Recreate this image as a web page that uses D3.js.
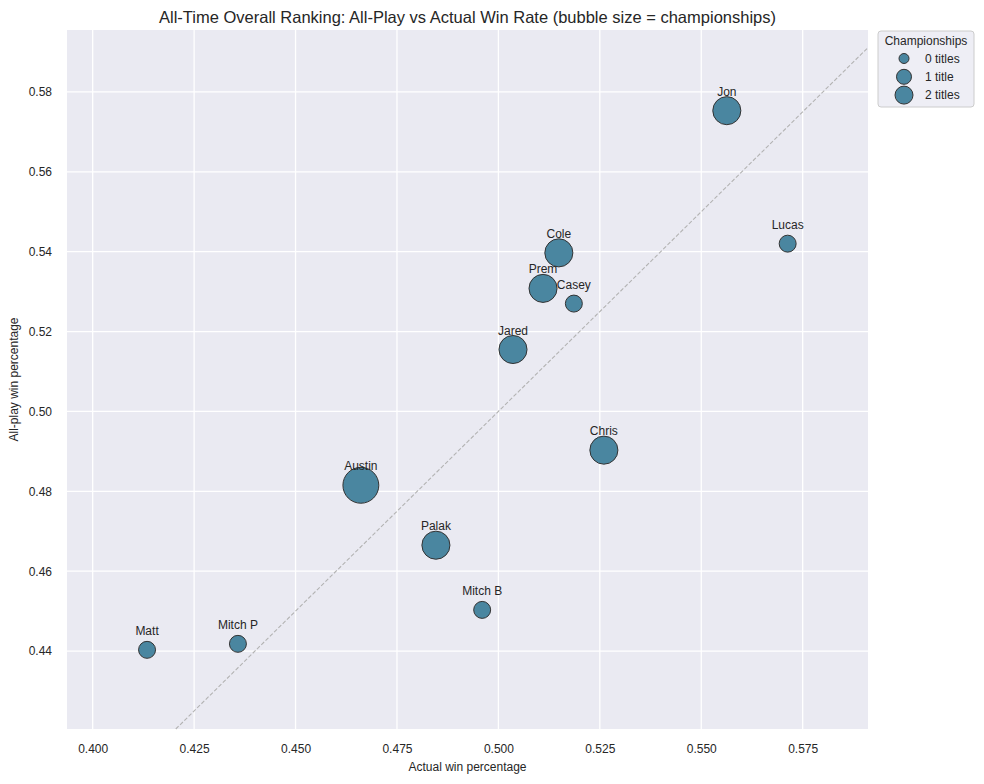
<!DOCTYPE html>
<html>
<head>
<meta charset="utf-8">
<script src="https://cdn.jsdelivr.net/npm/d3@7"></script>
<style>
  body { margin: 0; background: #fff; }
  svg { font-family: "Liberation Sans", Arial, sans-serif; }
</style>
</head>
<body>
<svg id="chart" width="984" height="784"></svg>
<script>
// data
var managers = ["Jon", "Lucas", "Cole", "Prem", "Casey", "Jared", "Chris", "Austin", "Palak", "Mitch B", "Mitch P", "Matt"];
var actualPct = [0.5563, 0.5713, 0.5149, 0.5110, 0.5186, 0.5036, 0.5260, 0.4661, 0.4846, 0.4960, 0.4358, 0.4134];
var allPlayPct = [0.5753, 0.5420, 0.5397, 0.5308, 0.5270, 0.5155, 0.4903, 0.4815, 0.4665, 0.4503, 0.4418, 0.4403];
var titles = [1, 0, 1, 1, 0, 1, 1, 2, 1, 0, 0, 0];

var xTicks = [0.400, 0.425, 0.450, 0.475, 0.500, 0.525, 0.550, 0.575];
var yTicks = [0.44, 0.46, 0.48, 0.50, 0.52, 0.54, 0.56, 0.58];
var legendTitles = [0, 1, 2];

var width = 984
var height = 784
var margin = { top: 30, right: 116, bottom: 55, left: 67 };

var svg = d3.select("#chart");

var x = d3.scaleLinear()
    .domain([0.39367, 0.5911])
    .range([margin.left, width - margin.right]);
var y = d3.scaleLinear()
    .domain([0.42048, 0.5955])
    .range([height - margin.bottom, margin.top]);

// bubble area grows with championships
var r = function(t) { return Math.sqrt(72 + 125 * t); };

svg.append("rect")
    .attr("x", margin.left)
    .attr("y", margin.top)
    .attr("width", width - margin.left - margin.right)
    .attr("height", height - margin.top - margin.bottom)
    .attr("fill", "#eaeaf2");

// grid
svg.append("g").selectAll("line").data(xTicks).join("line")
    .attr("x1", function(d) { return x(d); })
    .attr("x2", function(d) { return x(d); })
    .attr("y1", margin.top)
    .attr("y2", height - margin.bottom)
    .attr("stroke", "#fff").attr("stroke-width", 1.3);
svg.append("g").selectAll("line").data(yTicks).join("line")
    .attr("y1", function(d) { return y(d); })
    .attr("y2", function(d) { return y(d); })
    .attr("x1", margin.left)
    .attr("x2", width - margin.right)
    .attr("stroke", "#fff").attr("stroke-width", 1.3);

// axes (text only, seaborn style)
var xAxis = svg.append("g")
    .attr("transform", "translate(0," + (height - margin.bottom) + ")")
    .call(d3.axisBottom(x).tickValues(xTicks).tickFormat(d3.format(".3f")).tickSize(0).tickPadding(15));
var yAxis = svg.append("g")
    .attr("transform", "translate(" + margin.left + ",0)")
    .call(d3.axisLeft(y).tickValues(yTicks).tickFormat(d3.format(".2f")).tickSize(0).tickPadding(15));
[xAxis, yAxis].forEach(function(a) {
    a.select(".domain").remove();
    a.selectAll("text").attr("fill", "#262626").style("font-size", "12px")
        .style("font-family", "'Liberation Sans', Arial, sans-serif");
});

// y = x reference line
var lo = Math.max(x.domain()[0], y.domain()[0]);
var hi = Math.min(x.domain()[1], y.domain()[1]);
svg.append("line")
    .attr("x1", x(lo)).attr("y1", y(lo))
    .attr("x2", x(hi)).attr("y2", y(hi))
    .attr("stroke", "#b3b3b3")
    .attr("stroke-width", 1.1)
    .attr("stroke-dasharray", "4,2");

var points = managers.map(function(m, i) {
    return { name: m, ax: actualPct[i], ap: allPlayPct[i], t: titles[i] };
});

svg.append("g").selectAll("circle").data(points).join("circle")
    .attr("cx", function(d) { return x(d.ax); })
    .attr("cy", function(d) { return y(d.ap); })
    .attr("r", function(d) { return r(d.t); })
    .attr("fill", "#4a86a0")
    .attr("stroke", "#333")
    .attr("stroke-width", 1);

svg.append("g").selectAll("text").data(points).join("text")
    .attr("x", function(d) { return x(d.ax); })
    .attr("y", function(d) { return y(d.ap) - 15; })
    .attr("text-anchor", "middle")
    .attr("fill", "#262626")
    .style("font-size", "12px")
    .text(function(d) { return d.name; });

// titles
svg.append("text")
    .attr("x", (margin.left + width - margin.right) / 2)
    .attr("y", 23)
    .attr("text-anchor", "middle")
    .attr("fill", "#262626")
    .style("font-size", "16.5px")
    .text("All-Time Overall Ranking: All-Play vs Actual Win Rate (bubble size = championships)");

svg.append("text")
    .attr("x", (margin.left + width - margin.right) / 2)
    .attr("y", 771)
    .attr("text-anchor", "middle")
    .attr("fill", "#262626")
    .style("font-size", "12px")
    .text("Actual win percentage");

svg.append("text")
    .attr("transform", "translate(18," + ((margin.top + height - margin.bottom) / 2) + ") rotate(-90)")
    .attr("text-anchor", "middle")
    .attr("fill", "#262626")
    .style("font-size", "12px")
    .text("All-play win percentage");

// legend
var lg = svg.append("g").attr("transform", "translate(878,31)");
lg.append("rect")
    .attr("width", 96).attr("height", 76).attr("rx", 3)
    .attr("fill", "#eaeaf2").attr("fill-opacity", 0.8)
    .attr("stroke", "#cccccc");
lg.append("text")
    .attr("x", 48).attr("y", 13.5)
    .attr("text-anchor", "middle")
    .attr("fill", "#262626")
    .style("font-size", "12px")
    .text("Championships");
var legR = [5, 7.5, 9];
var items = lg.selectAll(".item").data(legendTitles).join("g")
    .attr("transform", function(d, i) { return "translate(0," + (27.5 + i * 18.3) + ")"; });
items.append("circle")
    .attr("cx", 26).attr("cy", 0)
    .attr("r", function(d, i) { return legR[i]; })
    .attr("fill", "#4a86a0").attr("stroke", "#333").attr("stroke-width", 1);
items.append("text")
    .attr("x", 47).attr("y", 4.3)
    .attr("fill", "#262626")
    .style("font-size", "12px")
    .text(function(d) { return d + (d == 1 ? " title" : " titles"); });
</script>
</body>
</html>
